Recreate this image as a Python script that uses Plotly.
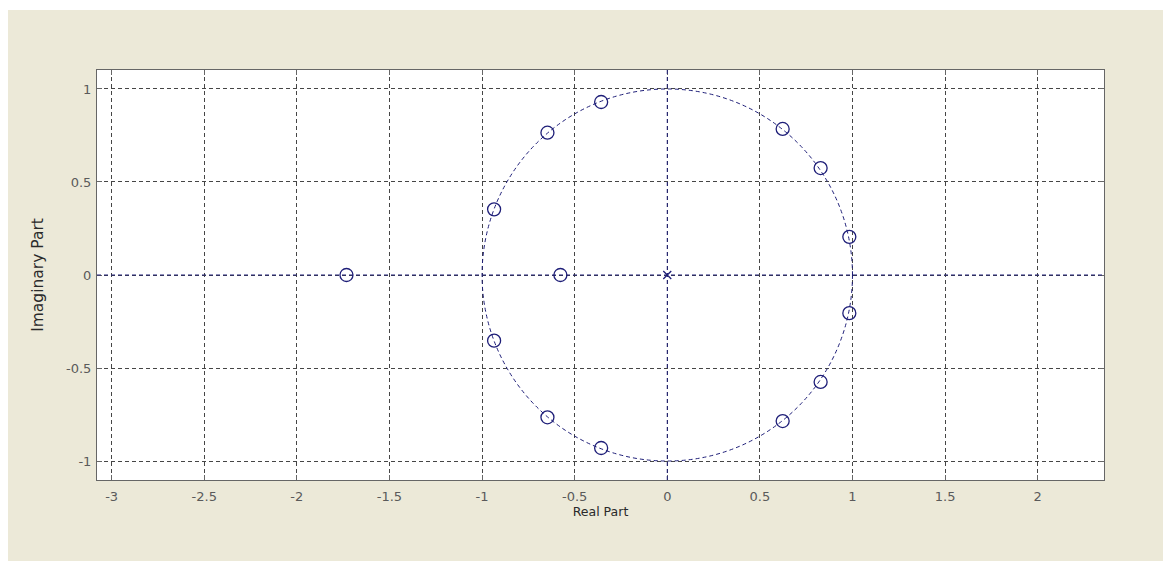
import plotly.graph_objects as go

# Zeros (real, imaginary)
zero_re = [-1.732, -0.577, -0.357, -0.647, -0.935, -0.935, -0.647, -0.357,
           0.623, 0.828, 0.983, 0.983, 0.828, 0.623]
zero_im = [0.0, 0.0, 0.930, 0.765, 0.353, -0.353, -0.765, -0.930,
           0.785, 0.575, 0.205, -0.205, -0.575, -0.785]
# Poles
pole_re = [0.0]
pole_im = [0.0]

x_ticks = [-3, -2.5, -2, -1.5, -1, -0.5, 0, 0.5, 1, 1.5, 2]
x_labels = ["-3", "-2.5", "-2", "-1.5", "-1", "-0.5", "0", "0.5", "1", "1.5", "2"]
y_ticks = [-1, -0.5, 0, 0.5, 1]
y_labels = ["-1", "-0.5", "0", "0.5", "1"]
x_range = [-3.079, 2.358]
y_range = [-1.102, 1.102]

NAVY = "#1e1e78"
GRID = "#454545"
FRAME = "#666666"
BEIGE = "#ece9d8"

# page body adds an 8px white margin at top/left
W, H = 1163, 553
L, R, T, B = 89, 67, 62, 81
pw, ph = W - L - R, H - T - B

fig = go.Figure()

fig.add_trace(go.Scatter(
    x=zero_re, y=zero_im, mode="markers",
    marker=dict(symbol="circle-open", size=13, color=NAVY, line=dict(width=1.3, color=NAVY)),
    showlegend=False, hoverinfo="x+y"))
fig.add_trace(go.Scatter(
    x=pole_re, y=pole_im, mode="markers",
    marker=dict(symbol="x-thin-open", size=8, color=NAVY, line=dict(width=1.3, color=NAVY)),
    showlegend=False, hoverinfo="x+y"))

shapes = []
# thin white strip at the very top
shapes.append(dict(type="rect", xref="paper", yref="paper",
                   x0=-L / pw - 0.01, x1=(W - L) / pw + 0.01,
                   y0=(ph + T - 2) / ph, y1=(ph + T) / ph + 0.01,
                   fillcolor="white", line=dict(width=0), layer="below"))
# unit circle
shapes.append(dict(type="circle", xref="x", yref="y", x0=-1, x1=1, y0=-1, y1=1,
                   line=dict(color=NAVY, width=1, dash="4px,3px"), layer="above"))
# real and imaginary axes (zplane)
shapes.append(dict(type="line", xref="paper", yref="y", x0=0, x1=1, y0=0, y1=0,
                   line=dict(color=NAVY, width=1, dash="4px,3px"), layer="above"))
shapes.append(dict(type="line", xref="x", yref="paper", x0=0, x1=0, y0=0, y1=1,
                   line=dict(color=NAVY, width=1, dash="4px,3px"), layer="above"))

fig.update_layout(
    width=W, height=H,
    margin=dict(l=L, r=R, t=T, b=B, autoexpand=False),
    paper_bgcolor=BEIGE,
    plot_bgcolor="white",
    shapes=shapes,
    font=dict(family="DejaVu Sans, sans-serif", size=13, color="#5a5a5a"),
)

axis_common = dict(
    showline=True, linecolor=FRAME, linewidth=1, mirror="ticks",
    ticks="inside", ticklen=5, tickcolor=FRAME, tickwidth=1,
    showgrid=True, gridcolor=GRID, gridwidth=1, griddash="4px,3px",
    zeroline=False, fixedrange=True,
    tickfont=dict(family="DejaVu Sans, sans-serif", size=13, color="#5a5a5a"),
)

fig.update_xaxes(range=x_range, tickvals=x_ticks, ticktext=x_labels,
                 ticklabelstandoff=4,
                 title=dict(text="Real Part", font=dict(family="DejaVu Sans, sans-serif", size=12.5, color="#2a2a2a"), standoff=0),
                 **axis_common)
fig.update_yaxes(range=y_range, tickvals=y_ticks, ticktext=y_labels,
                 ticklabelstandoff=2,
                 title=dict(text="Imaginary Part", font=dict(family="DejaVu Sans, sans-serif", size=15.5, color="#2a2a2a"), standoff=18),
                 **axis_common)

fig.write_html("out.html")
